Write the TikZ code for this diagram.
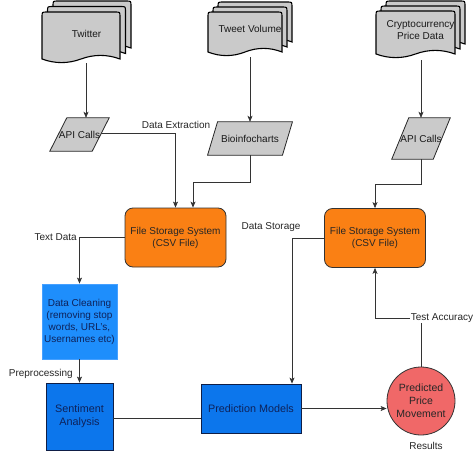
\documentclass[tikz,border=0pt]{standalone}
\usepackage{fontspec}
\setmainfont{Liberation Sans}
\usetikzlibrary{arrows.meta,calc}
\pgfdeclarelayer{bg}
\pgfsetlayers{bg,main}
\definecolor{docgray}{RGB}{202,202,202}
\definecolor{fssorange}{RGB}{250,128,20}
\definecolor{dcblue}{RGB}{30,142,252}
\definecolor{dcborder}{RGB}{70,160,255}
\definecolor{sablue}{RGB}{12,118,236}
\definecolor{saborder}{RGB}{15,30,70}
\definecolor{navytext}{RGB}{14,34,90}
\definecolor{ppmred}{RGB}{240,104,104}
\newcommand{\docpage}[4]{%
  \filldraw[docpg] ({#1},{#4}) -- ({#1},{#2+5}) .. controls ({#1},{#2}) .. ({#1+5},{#2})
    -- ({#3-5},{#2}) .. controls ({#3},{#2}) .. ({#3},{#2+5}) -- ({#3},{#4})
    .. controls ({#3-(#3-#1)/6},{#4-4.8}) and ({(#1+#3)/2+(#3-#1)/6},{#4-4.8}) .. ({(#1+#3)/2},{#4})
    .. controls ({(#1+#3)/2-(#3-#1)/6},{#4+4.8}) and ({#1+(#3-#1)/6},{#4+4.8}) .. ({#1},{#4}) -- cycle;}
\newcommand{\paraio}[2]{%
  \filldraw[parafill] ([xshift=#2]#1.north west) -- ([xshift=#2]#1.north east)
    -- ([xshift=-#2]#1.south east) -- ([xshift=-#2]#1.south west) -- cycle;}
\tikzset{
  conn/.style={draw=black!80, line width=0.7pt},
  arr/.style={conn, -{Stealth[length=6pt,width=5pt,inset=1.5pt]}},
  docpg/.style={fill=docgray, draw=black, line width=1.1pt},
  parafill/.style={fill=docgray, draw=black!85, line width=0.8pt},
  basefont/.style={font=\fontsize{10}{12}\selectfont},
  lbl/.style={basefont, text=black!85, inner sep=1pt},
  doctext/.style={basefont, text=black!90, align=center, inner sep=0pt},
  para/.style={basefont, text=black!90, inner sep=0pt, align=center},
  fss/.style={basefont, draw=black!80, line width=0.8pt, fill=fssorange, rounded corners=8pt,
    minimum width=101pt, minimum height=59pt, align=center, text=black!85, inner sep=0pt},
  dcbox/.style={basefont, draw=dcborder, line width=0.8pt, fill=dcblue, minimum width=75pt,
    minimum height=75pt, align=center, text=navytext, inner sep=0pt},
  sabox/.style={font=\fontsize{10.8}{13}\selectfont, draw=saborder, line width=0.8pt, fill=sablue,
    align=center, text=navytext, inner sep=0pt},
  ppmnode/.style={font=\fontsize{10.5}{12.8}\selectfont, circle, draw=black!80, line width=0.8pt,
    fill=ppmred, minimum size=68pt, inner sep=0pt, align=center, text=black!85}
}
\begin{document}
\begin{tikzpicture}[x=1pt,y=-1pt]
\useasboundingbox (0,0) rectangle (474,455);
\begin{pgfonlayer}{bg}
\fill[white] (0,0) rectangle (474,455);
\end{pgfonlayer}
% multi-documents
\docpage{53}{1}{131}{48}
\docpage{47.5}{6.5}{125.5}{53.5}
\docpage{42}{12}{120}{59}
\docpage{218}{2}{292}{42}
\docpage{213}{7}{287}{47}
\docpage{208}{12}{282}{52}
\docpage{386}{1}{465}{44}
\docpage{381}{6}{460}{49}
\docpage{376}{11}{455}{54}
\node[doctext] (twt) at (86.5,34) {Twitter};
\node[doctext] (tvt) at (250,29) {Tweet Volume};
\node[doctext] (cpt) at (420.5,30) {Cryptocurrency\\[-0.5pt]Price Data};
\coordinate (twb) at (86,63);
\coordinate (tvb) at (250,57);
\coordinate (cpb) at (421,60);
% parallelograms
\node[para, minimum width=42pt, minimum height=33pt] (api1) at (79.5,134.5) {API Calls};
\node[para, minimum width=74.5pt, minimum height=33pt] (bio) at (250,138.5) {Bioinfocharts};
\node[para, minimum width=41pt, minimum height=41pt] (api2) at (421,138.5) {API Calls};
\begin{pgfonlayer}{bg}
\paraio{api1}{8.5pt}
\paraio{bio}{5pt}
\paraio{api2}{8.5pt}
\end{pgfonlayer}
% process nodes
\node[fss] (fss1) at (175.5,237.5) {File Storage System\\(CSV File)};
\node[fss] (fss2) at (375,238) {File Storage System\\(CSV File)};
\node[dcbox] (dc) at (79.5,321.5) {Data Cleaning\\(removing stop\\words, URL's,\\Usernames etc)};
\node[sabox, minimum width=67pt, minimum height=67pt] (sa) at (79.5,416.5) {Sentiment\\Analysis};
\node[sabox, minimum width=100pt, minimum height=49pt] (pm) at (251,408.5) {Prediction Models};
\node[ppmnode] (ppm) at (421,401) {Predicted\\Price\\Movement};
% connectors
\draw[arr] (twb) -- (twb |- api1.north);
\draw[arr] (tvb) -- (tvb |- bio.north);
\draw[arr] (cpb) -- (cpb |- api2.north);
\draw[arr] ([yshift=1.5pt]api1.east) -| (fss1.north);
\draw[arr] (bio.south) -- ++(0,27) -| ([xshift=17.5pt]fss1.north);
\draw[arr] (api2.south) -- ++(0,25) -| (fss2.north);
\draw[arr] (fss1.west) -| (dc.north);
\draw[arr] (dc.south) -- (sa.north);
\draw[conn] ([yshift=-1.5pt]sa.east) -- ([yshift=-1.5pt]sa.east -| pm.west);
\draw[arr] (fss2.west) -| ([xshift=41pt]pm.north);
\draw[arr] (pm.east) -- (pm.east -| ppm.west);
\coordinate (tac) at (375,318);
\draw[arr] (ppm.north) |- (tac) -- (fss2.south);
% labels
\node[lbl] (lde) at (176,125) {Data Extraction};
\node[lbl] (lds) at (271,227) {Data Storage};
\node[lbl, anchor=east] (ltd) at (78,237) {Text Data};
\node[lbl, anchor=east] (lpp) at (74,374) {Preprocessing};
\node[lbl, fill=white] (lta) at (442,318) {Test Accuracy};
\node[lbl] (lres) at (426,446) {Results};
\end{tikzpicture}
\end{document}
